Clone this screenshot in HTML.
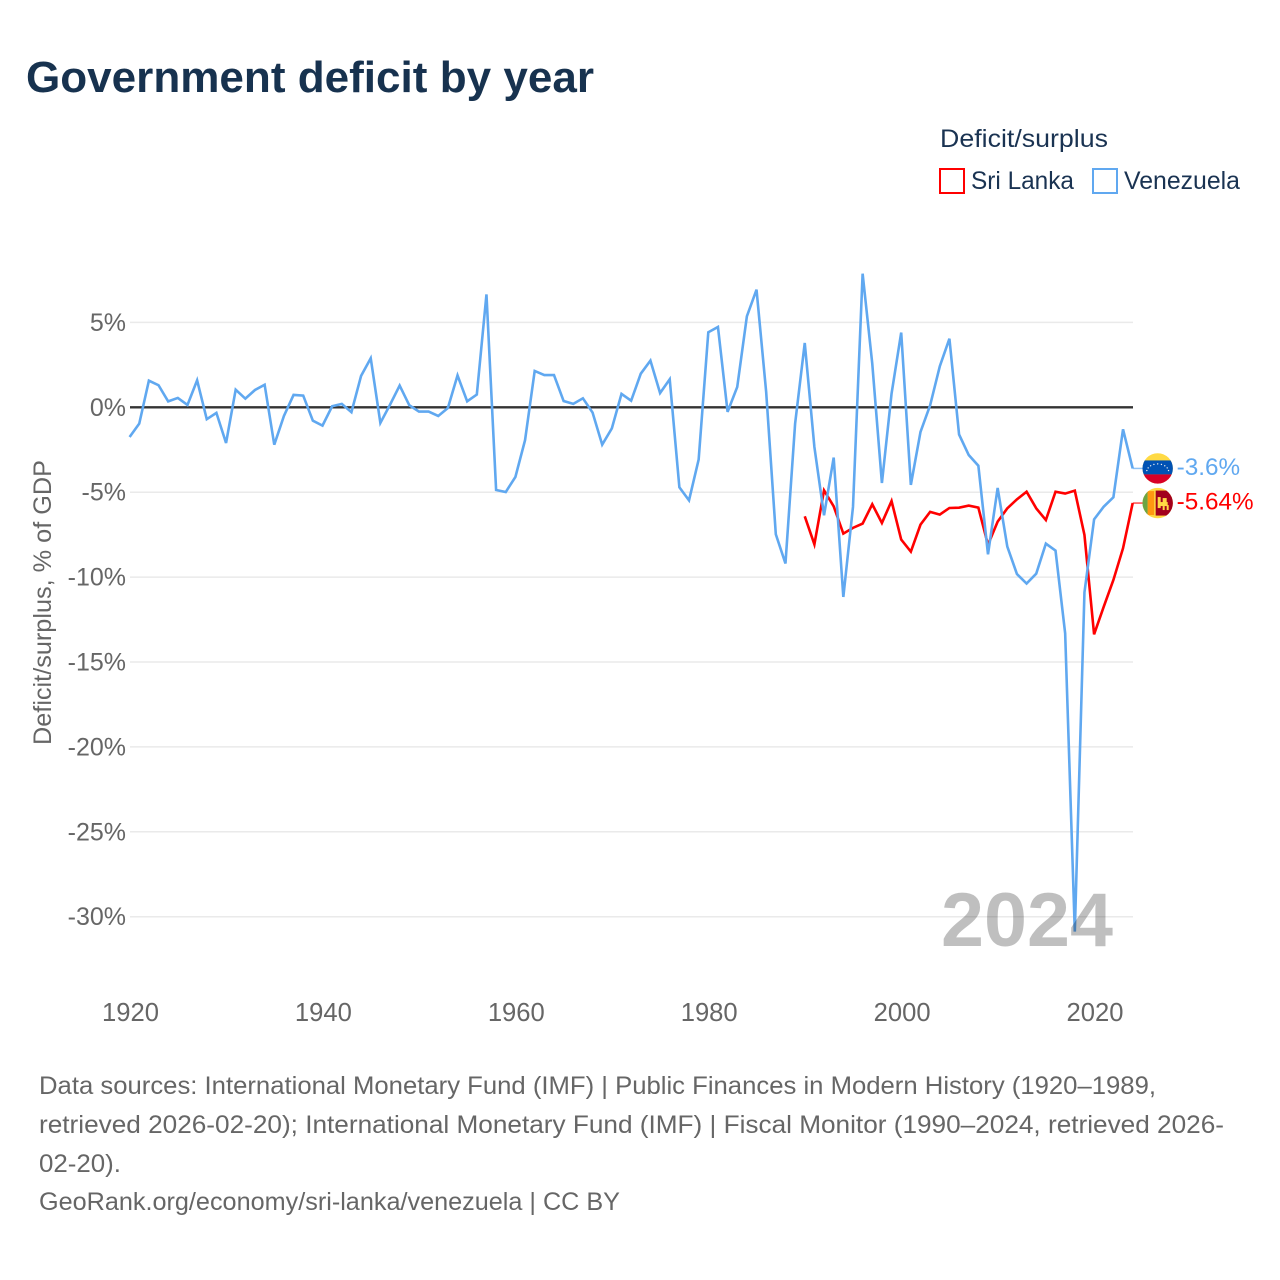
<!DOCTYPE html>
<html lang="en">
<head>
<meta charset="utf-8">
<title>Government deficit by year</title>
<style>
html,body{margin:0;padding:0;background:#fff;}
svg{display:block;font-family:"Liberation Sans",sans-serif;}
</style>
</head>
<body>
<svg id="chart" width="1280" height="1280" viewBox="0 0 1280 1280" xmlns="http://www.w3.org/2000/svg">
  <rect width="1280" height="1280" fill="#fff"/>
  <text x="26" y="92" font-size="44" font-weight="700" fill="#17324f" textLength="568" lengthAdjust="spacingAndGlyphs">Government deficit by year</text>

  <g>
    <text x="940" y="147" font-size="25" fill="#1a3352" textLength="168" lengthAdjust="spacingAndGlyphs">Deficit/surplus</text>
    <g>
      <rect x="940" y="169" width="24" height="24" fill="#fff" stroke="#ff0000" stroke-width="2"/>
      <text x="971" y="189" font-size="25" fill="#1a3352" textLength="103" lengthAdjust="spacingAndGlyphs">Sri Lanka</text>
    </g>
    <g>
      <rect x="1093" y="169" width="24" height="24" fill="#fff" stroke="#60a8f0" stroke-width="2"/>
      <text x="1124" y="189" font-size="25" fill="#1a3352" textLength="116" lengthAdjust="spacingAndGlyphs">Venezuela</text>
    </g>
  </g>

  <text transform="translate(51,745) rotate(-90)" font-size="25" fill="#666" textLength="285" lengthAdjust="spacingAndGlyphs">Deficit/surplus, % of GDP</text>

  <g id="grid"></g>
  <g id="yLabels"></g>
  <g id="xLabels"></g>
  <g id="series"></g>
  <g id="ends"></g>

  <text x="941" y="946" font-size="76" font-weight="700" fill="#000" fill-opacity="0.25" textLength="172" lengthAdjust="spacingAndGlyphs">2024</text>

  <g font-size="25" fill="#666">
    <text x="39" y="1094" textLength="1117" lengthAdjust="spacingAndGlyphs">Data sources: International Monetary Fund (IMF) | Public Finances in Modern History (1920–1989,</text>
    <text x="39" y="1133" textLength="1185" lengthAdjust="spacingAndGlyphs">retrieved 2026-02-20); International Monetary Fund (IMF) | Fiscal Monitor (1990–2024, retrieved 2026-</text>
    <text x="39" y="1172" textLength="82" lengthAdjust="spacingAndGlyphs">02-20).</text>
    <text x="39" y="1210" textLength="581" lengthAdjust="spacingAndGlyphs">GeoRank.org/economy/sri-lanka/venezuela | CC BY</text>
  </g>
</svg>
<script>
const xTicks = [1920, 1940, 1960, 1980, 2000, 2020];
const yTicks = [5, 0, -5, -10, -15, -20, -25, -30];
const venezuelaStartYear = 1920;
const venezuelaValues = [
  -1.75, -0.96, 1.57, 1.3, 0.35, 0.55, 0.14, 1.59, -0.7, -0.33,
  -2.1, 1.04, 0.51, 1.02, 1.33, -2.2, -0.51, 0.73, 0.69, -0.79,
  -1.08, 0.06, 0.2, -0.29, 1.85, 2.89, -0.92, 0.15, 1.28, 0.12,
  -0.25, -0.25, -0.51, -0.04, 1.88, 0.35, 0.75, 6.65, -4.87, -4.99,
  -4.1, -1.94, 2.14, 1.9, 1.9, 0.37, 0.2, 0.53, -0.31, -2.2,
  -1.24, 0.79, 0.39, 1.98, 2.75, 0.84, 1.65, -4.71, -5.48, -3.08,
  4.42, 4.73, -0.27, 1.2, 5.36, 6.93, 0.9, -7.48, -9.2, -0.96,
  3.79, -2.34, -6.36, -2.96, -11.17, -5.87, 7.87, 2.57, -4.46, 0.8,
  4.4, -4.57, -1.45, 0.12, 2.41, 4.04, -1.6, -2.81, -3.44, -8.66,
  -4.75, -8.2, -9.82, -10.38, -9.8, -8.03, -8.44, -13.31, -30.88, -10.9,
  -6.6, -5.85, -5.3, -1.3, -3.6
];
const sriLankaStartYear = 1990;
const sriLankaValues = [
  -6.42, -8.07, -4.89, -5.83, -7.44, -7.1, -6.85, -5.71, -6.81, -5.52,
  -7.79, -8.5, -6.91, -6.16, -6.32, -5.93, -5.91, -5.79, -5.91, -8.1,
  -6.73, -5.95, -5.42, -4.97, -5.95, -6.64, -4.97, -5.08, -4.91, -7.52,
  -13.37, -11.74, -10.17, -8.3, -5.64
];

const NS = 'http://www.w3.org/2000/svg';
const xAxis = year => 129.6 + (year - 1920) * 9.645;
const yAxis = value => 407.3 - value * 16.98;

function make(tag, parent, attrs, text) {
  const el = document.createElementNS(NS, tag);
  for (const k in attrs) el.setAttribute(k, attrs[k]);
  if (text !== undefined) el.textContent = text;
  parent.appendChild(el);
  return el;
}

const grid = document.getElementById('grid');
const yLabels = document.getElementById('yLabels');
const xLabels = document.getElementById('xLabels');
const seriesGroup = document.getElementById('series');
const ends = document.getElementById('ends');

yTicks.forEach(t => {
  const line = make('line', grid, {
    x1: 130, x2: 1133, y1: yAxis(t), y2: yAxis(t),
    stroke: t === 0 ? '#333' : '#eaeaea',
    'stroke-width': t === 0 ? 2.4 : 1.5
  });
  
  
  const label = make('text', yLabels, {
    x: 126, y: yAxis(t) + 8.5, 'text-anchor': 'end', 'font-size': 25, fill: '#666'
  }, t + '%');
  
  
});

xTicks.forEach(t => {
  const label = make('text', xLabels, {
    x: xAxis(t) + 0.9, y: 1021, 'text-anchor': 'middle', 'font-size': 25.6, fill: '#666'
  }, String(t));
  
  
});

function drawLine(values, startYear, color, name) {
  const pts = values.map((v, i) => xAxis(startYear + i).toFixed(2) + ',' + yAxis(v).toFixed(2)).join(' ');
  const line = make('polyline', seriesGroup, {
    points: pts, fill: 'none', stroke: color, 'stroke-width': 2.6
  });
  
  
}
drawLine(sriLankaValues, sriLankaStartYear, '#ff0000', 'line-sri-lanka');
drawLine(venezuelaValues, venezuelaStartYear, '#60a8f0', 'line-venezuela');

function drawEnd(values, startYear, color, name, paintFlag) {
  const last = values[values.length - 1];
  const lastYear = startYear + values.length - 1;
  const px = xAxis(lastYear);
  const py = yAxis(last);
  const connector = make('line', ends, {
    x1: px, x2: px + 10, y1: py, y2: py, stroke: color, 'stroke-width': 1.5, 'stroke-opacity': 0.7
  });
  
  
  const flag = make('g', ends, { transform: 'translate(' + (px + 25) + ',' + py + ')' });
  
  
  paintFlag(flag);
  const label = make('text', ends, {
    x: px + 44, y: py + 6.5, 'font-size': 24.3, fill: color
  }, last + '%');
  
  
}

function venezuelaFlag(g) {
  const clipDefs = make('defs', g, {});
  const clip = make('clipPath', clipDefs, { id: 'clipVe' });
  make('circle', clip, { r: 15.2 });
  const body = make('g', g, { 'clip-path': 'url(#clipVe)' });
  make('rect', body, { x: -16, y: -16, width: 32, height: 32, fill: '#ffda44' });
  make('rect', body, { x: -16, y: -8, width: 32, height: 14, fill: '#0052b4' });
  make('rect', body, { x: -16, y: 6, width: 32, height: 10, fill: '#d80027' });
  for (let a = -80; a <= 80; a += 20) {
    const r = a * Math.PI / 180;
    make('circle', body, { cx: 11 * Math.sin(r), cy: 3.5 - 8 * Math.cos(r), r: 0.7, fill: '#f0f0f0' });
  }
}
function sriLankaFlag(g) {
  const clipDefs = make('defs', g, {});
  const clip = make('clipPath', clipDefs, { id: 'clipLk' });
  make('circle', clip, { r: 15.2 });
  const body = make('g', g, { 'clip-path': 'url(#clipLk)' });
  make('rect', body, { x: -16, y: -16, width: 32, height: 32, fill: '#ffda44' });
  make('rect', body, { x: -16, y: -16, width: 6, height: 32, fill: '#6da544' });
  make('rect', body, { x: -10, y: -12, width: 6.5, height: 24, fill: '#ff9811' });
  make('rect', body, { x: -2, y: -12.5, width: 18, height: 25, fill: '#a2001d' });
  make('rect', body, { x: 0, y: -6, width: 3, height: 11, fill: '#ffda44' });
  make('rect', body, { x: 1, y: -1, width: 9, height: 4, fill: '#ffda44' });
  make('rect', body, { x: 5, y: -5, width: 4, height: 5, fill: '#ffda44' });
  make('rect', body, { x: 5, y: 3, width: 2, height: 4, fill: '#ffda44' });
  make('rect', body, { x: 9, y: 2, width: 2, height: 5, fill: '#ffda44' });
}
drawEnd(venezuelaValues, venezuelaStartYear, '#60a8f0', 'venezuela', venezuelaFlag);
drawEnd(sriLankaValues, sriLankaStartYear, '#ff0000', 'sri-lanka', sriLankaFlag);
</script>
</body>
</html>
